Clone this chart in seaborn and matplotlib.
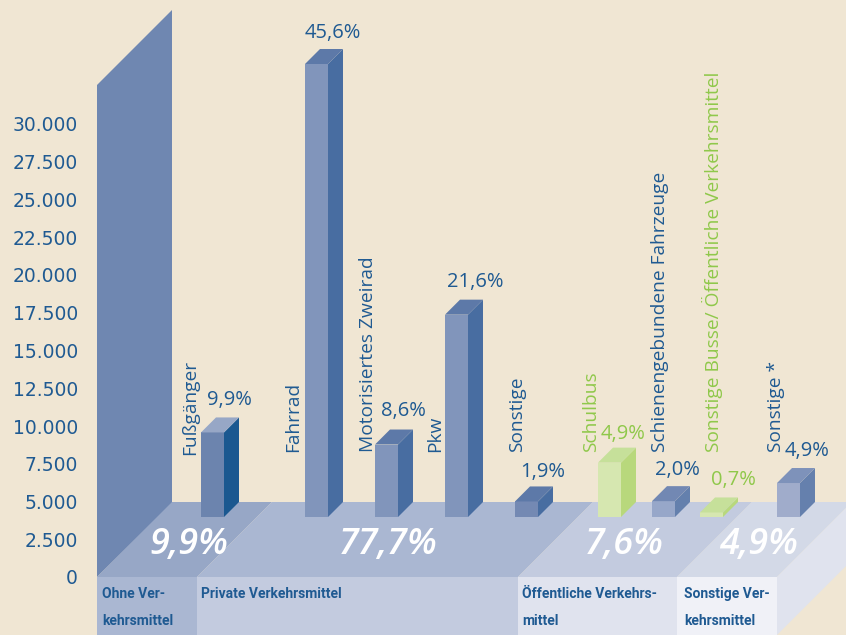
import pandas as pd
import matplotlib
matplotlib.use('Agg')
import matplotlib.pyplot as plt
from matplotlib.patches import Polygon
import seaborn as sns

categories = ['Fußgänger', 'Fahrrad', 'Motorisiertes Zweirad', 'Pkw', 'Sonstige', 'Schulbus',
              'Schienengebundene Fahrzeuge', 'Sonstige Busse/ Öffentliche Verkehrsmittel', 'Sonstige *']
values = [5600, 30000, 4800, 13400, 1030, 3600, 1050, 300, 2250]
shares = ['9,9%', '45,6%', '8,6%', '21,6%', '1,9%', '4,9%', '2,0%', '0,7%', '4,9%']
ticks = [0, 2500, 5000, 7500, 10000, 12500, 15000, 17500, 20000, 22500, 25000, 27500, 30000]
group_shares = ['9,9%', '77,7%', '7,6%', '4,9%']
group_names = ['Ohne Ver-\nkehrsmittel', 'Private Verkehrsmittel', 'Öffentliche Verkehrs-\nmittel', 'Sonstige Ver-\nkehrsmittel']

# layout in reference pixels
W, H = 846, 635
PX = 2500 / 37.75  # value units per pixel
bar_x = [212.5, 316.5, 386.5, 456.5, 526.5, 609.5, 663.5, 711.5, 788.5]
bar_w = 23
depth = 15
name_pos = [(190, 455), (293, 452), (368, 452), (435, 452), (517, 452), (591, 452), (660, 452), (712, 452), (776, 452)]
share_pos = [(229, 400), (333, 33), (403, 411), (475, 282), (543, 472), (623, 434), (677, 470), (733, 480), (807, 451)]
front = ['#6C84AE', '#8195BB', '#8195BB', '#8195BB', '#7489B3', '#D6E7B0', '#97A7C9', '#D6E7B0', '#A0ACCB']
side = ['#1B5890', '#486DA1', '#486DA1', '#486DA1', '#486DA1', '#B8D87C', '#6480AD', '#B8D87C', '#6580AD']
top = ['#97A7C6', '#5D79A8', '#5D79A8', '#5D79A8', '#5D79A8', '#C6E09A', '#7288B3', '#C6E09A', '#7E92BA']
BG = '#F0E6D3'
BLUE = '#1F5A92'
GREEN = '#8FC84A'
text_col = [BLUE, BLUE, BLUE, BLUE, BLUE, GREEN, BLUE, GREEN, BLUE]

sns.set_theme(style='white', rc={'figure.facecolor': BG, 'savefig.facecolor': BG})
plt.rcParams['font.family'] = ['Open Sans', 'DejaVu Sans']

fig = plt.figure(figsize=(W / 100, H / 100), dpi=100)

# background: wall, floor and front strip, in pixel coordinates
bg = fig.add_axes([0, 0, 1, 1])
bg.set_xlim(0, W)
bg.set_ylim(H, 0)
bg.set_axis_off()

bg.add_patch(Polygon([(97, 85), (172, 10), (172, 503), (97, 577)], fc='#6F87B1', ec='none'))

floor_edges = [97, 197, 518, 677, 777]
floor_col = ['#97A7C6', '#AAB7D2', '#C3CBDF', '#D3D9E7']
strip_col = ['#AAB7D2', '#C3CBDF', '#E0E3EE', '#F0F1F7']
for i in range(4):
    a, b = floor_edges[i], floor_edges[i + 1]
    bg.add_patch(Polygon([(a, 577), (b, 577), (b + 75, 502), (a + 75, 502)], fc=floor_col[i], ec='none'))
    bg.fill_between([a, b], 577, H, color=strip_col[i], lw=0)
bg.add_patch(Polygon([(777, 577), (852, 502), (852, 560), (777, 635)], fc='#E0E3EE', ec='none'))

# value scale on the left wall
scale = fig.add_axes([78 / W, (H - 577) / H, 1 / W, 577 / H])
scale.patch.set_visible(False)
scale.set_ylim(0, 577 * PX)
scale.set_xticks([])
scale.set_yticks(ticks)
scale.set_yticklabels([f'{t:,}'.replace(',', '.') for t in ticks], color=BLUE, fontsize=13.5,
                      family=['DejaVu Sans'])
scale.tick_params(axis='y', length=0, pad=0)
sns.despine(ax=scale, left=True, bottom=True)

# bars stand on the floor, 60 px above the scale's zero
ax = fig.add_axes([0, (H - 517) / H, 1, 517 / H])
ax.patch.set_visible(False)
df = pd.DataFrame({'x': bar_x, 'value': values, 'name': categories})
sns.barplot(data=df, x='x', y='value', hue='name', palette=dict(zip(categories, front)), native_scale=True,
            dodge=False, width=bar_w / 48, saturation=1, legend=False, linewidth=0, ax=ax)
ax.set_xlim(0, W)
ax.set_ylim(0, 517 * PX)
ax.set_axis_off()

dy = depth * PX
bars = sorted([p for p in ax.patches if p.get_height() > 0], key=lambda p: p.get_x())
for p, s, t in zip(bars, side, top):
    x0, x1, h = p.get_x(), p.get_x() + p.get_width(), p.get_height()
    ax.add_patch(Polygon([(x1, 0), (x1 + depth, dy), (x1 + depth, h + dy), (x1, h)], fc=s, ec='none'))
    ax.add_patch(Polygon([(x0, h), (x1, h), (x1 + depth, h + dy), (x0 + depth, h + dy)], fc=t, ec='none'))

# texts
for name, pos, c in zip(categories, name_pos, text_col):
    bg.text(pos[0], pos[1], name, rotation=90, ha='center', va='bottom', color=c, fontsize=13.8)
for s, pos, c in zip(shares, share_pos, text_col):
    bg.text(pos[0], pos[1], s, ha='center', va='center', color=c, fontsize=14.5)

for s, x in zip(group_shares, [189, 388, 624, 759]):
    bg.text(x, 545, s, ha='center', va='center', color='white', fontsize=26, style='italic', weight='semibold')

for s, x in zip(group_names, [102, 201, 522, 684]):
    bg.text(x, 587, s, ha='left', va='top', color=BLUE, fontsize=10, weight='bold', family=['Roboto', 'DejaVu Sans'],
            linespacing=2.17)

fig.savefig('out.png', dpi=100)
